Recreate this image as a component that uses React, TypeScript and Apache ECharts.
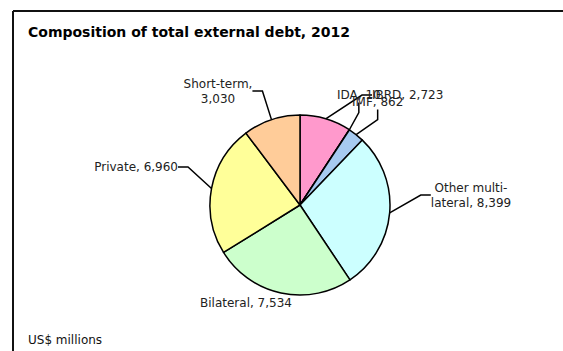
import React, { useEffect, useRef } from "react";
import * as echarts from "echarts";

const categories = ["IBRD", "IDA", "IMF", "Other multilateral", "Bilateral", "Private", "Short-term"];
const values = [2723, 10, 862, 8399, 7534, 6960, 3030];
const colors = ["#FF99CC", "#CC99FF", "#A6CAF0", "#CCFFFF", "#CCFFCC", "#FFFF99", "#FFCC99"];
const labelTexts = ["IBRD, ", "IDA, ", "IMF, ", "Other multi-\nlateral, ", "Bilateral, ", "Private, ", "Short-term,\n"];

// label anchor positions (layout only)
const labelPos: Record<string, { x: number; y: number; align: string; line: boolean }> = {
  IBRD: { x: 372, y: 95, align: "left", line: true },
  IDA: { x: 337, y: 95, align: "left", line: true },
  IMF: { x: 352, y: 102, align: "left", line: true },
  "Other multilateral": { x: 471, y: 195, align: "center", line: true },
  Bilateral: { x: 246, y: 303, align: "center", line: false },
  Private: { x: 178, y: 167, align: "right", line: true },
  "Short-term": { x: 218, y: 91, align: "center", line: true },
};

const FONT = "DejaVu Sans, Liberation Sans, Arial, sans-serif";

export default function App() {
  const ref = useRef<HTMLDivElement>(null);
  useEffect(() => {
    const chart = echarts.init(ref.current!, null, { renderer: "svg" });
    chart.setOption({
      animation: false,
      backgroundColor: "#fff",
      textStyle: { fontFamily: FONT },
      graphic: [
        { type: "line", shape: { x1: 13, y1: 11, x2: 563, y2: 11 }, style: { stroke: "#111", lineWidth: 2 } },
        { type: "line", shape: { x1: 13, y1: 11, x2: 13, y2: 351 }, style: { stroke: "#111", lineWidth: 2 } },
        {
          type: "text", left: 28, top: 25,
          style: { text: "Composition of total external debt, 2012", font: "bold 14px " + FONT, fill: "#000" },
        },
        {
          type: "text", left: 28, top: 334,
          style: { text: "US$ millions", font: "12px " + FONT, fill: "#111" },
        },
      ],
      series: [
        {
          type: "pie",
          center: [300, 205],
          radius: 90,
          startAngle: 90,
          clockwise: true,
          minAngle: 0,
          avoidLabelOverlap: false,
          data: categories.map((c, i) => ({
            name: c,
            value: values[i],
            itemStyle: { color: colors[i] },
            labelLine: { show: labelPos[c].line },
          })),
          itemStyle: { borderColor: "#000", borderWidth: 1.5 },
          label: {
            show: true,
            position: "outside",
            color: "#222",
            fontSize: 12,
            lineHeight: 15,
            fontFamily: FONT,
            formatter: (p: any) => labelTexts[p.dataIndex] + Number(p.value).toLocaleString("en-US"),
          },
          labelLine: {
            show: true,
            length: 10,
            length2: 10,
            lineStyle: { color: "#000", width: 1.5 },
          },
          labelLayout: (p: any) => {
            const pos = labelPos[categories[p.dataIndex]];
            return { x: pos.x, y: pos.y, align: pos.align, verticalAlign: "middle" };
          },
          emphasis: { disabled: true },
        },
      ],
    });
    return () => chart.dispose();
  }, []);
  return <div ref={ref} style={{ width: 563, height: 351, position: "absolute", left: 0, top: 0 }} />;
}
